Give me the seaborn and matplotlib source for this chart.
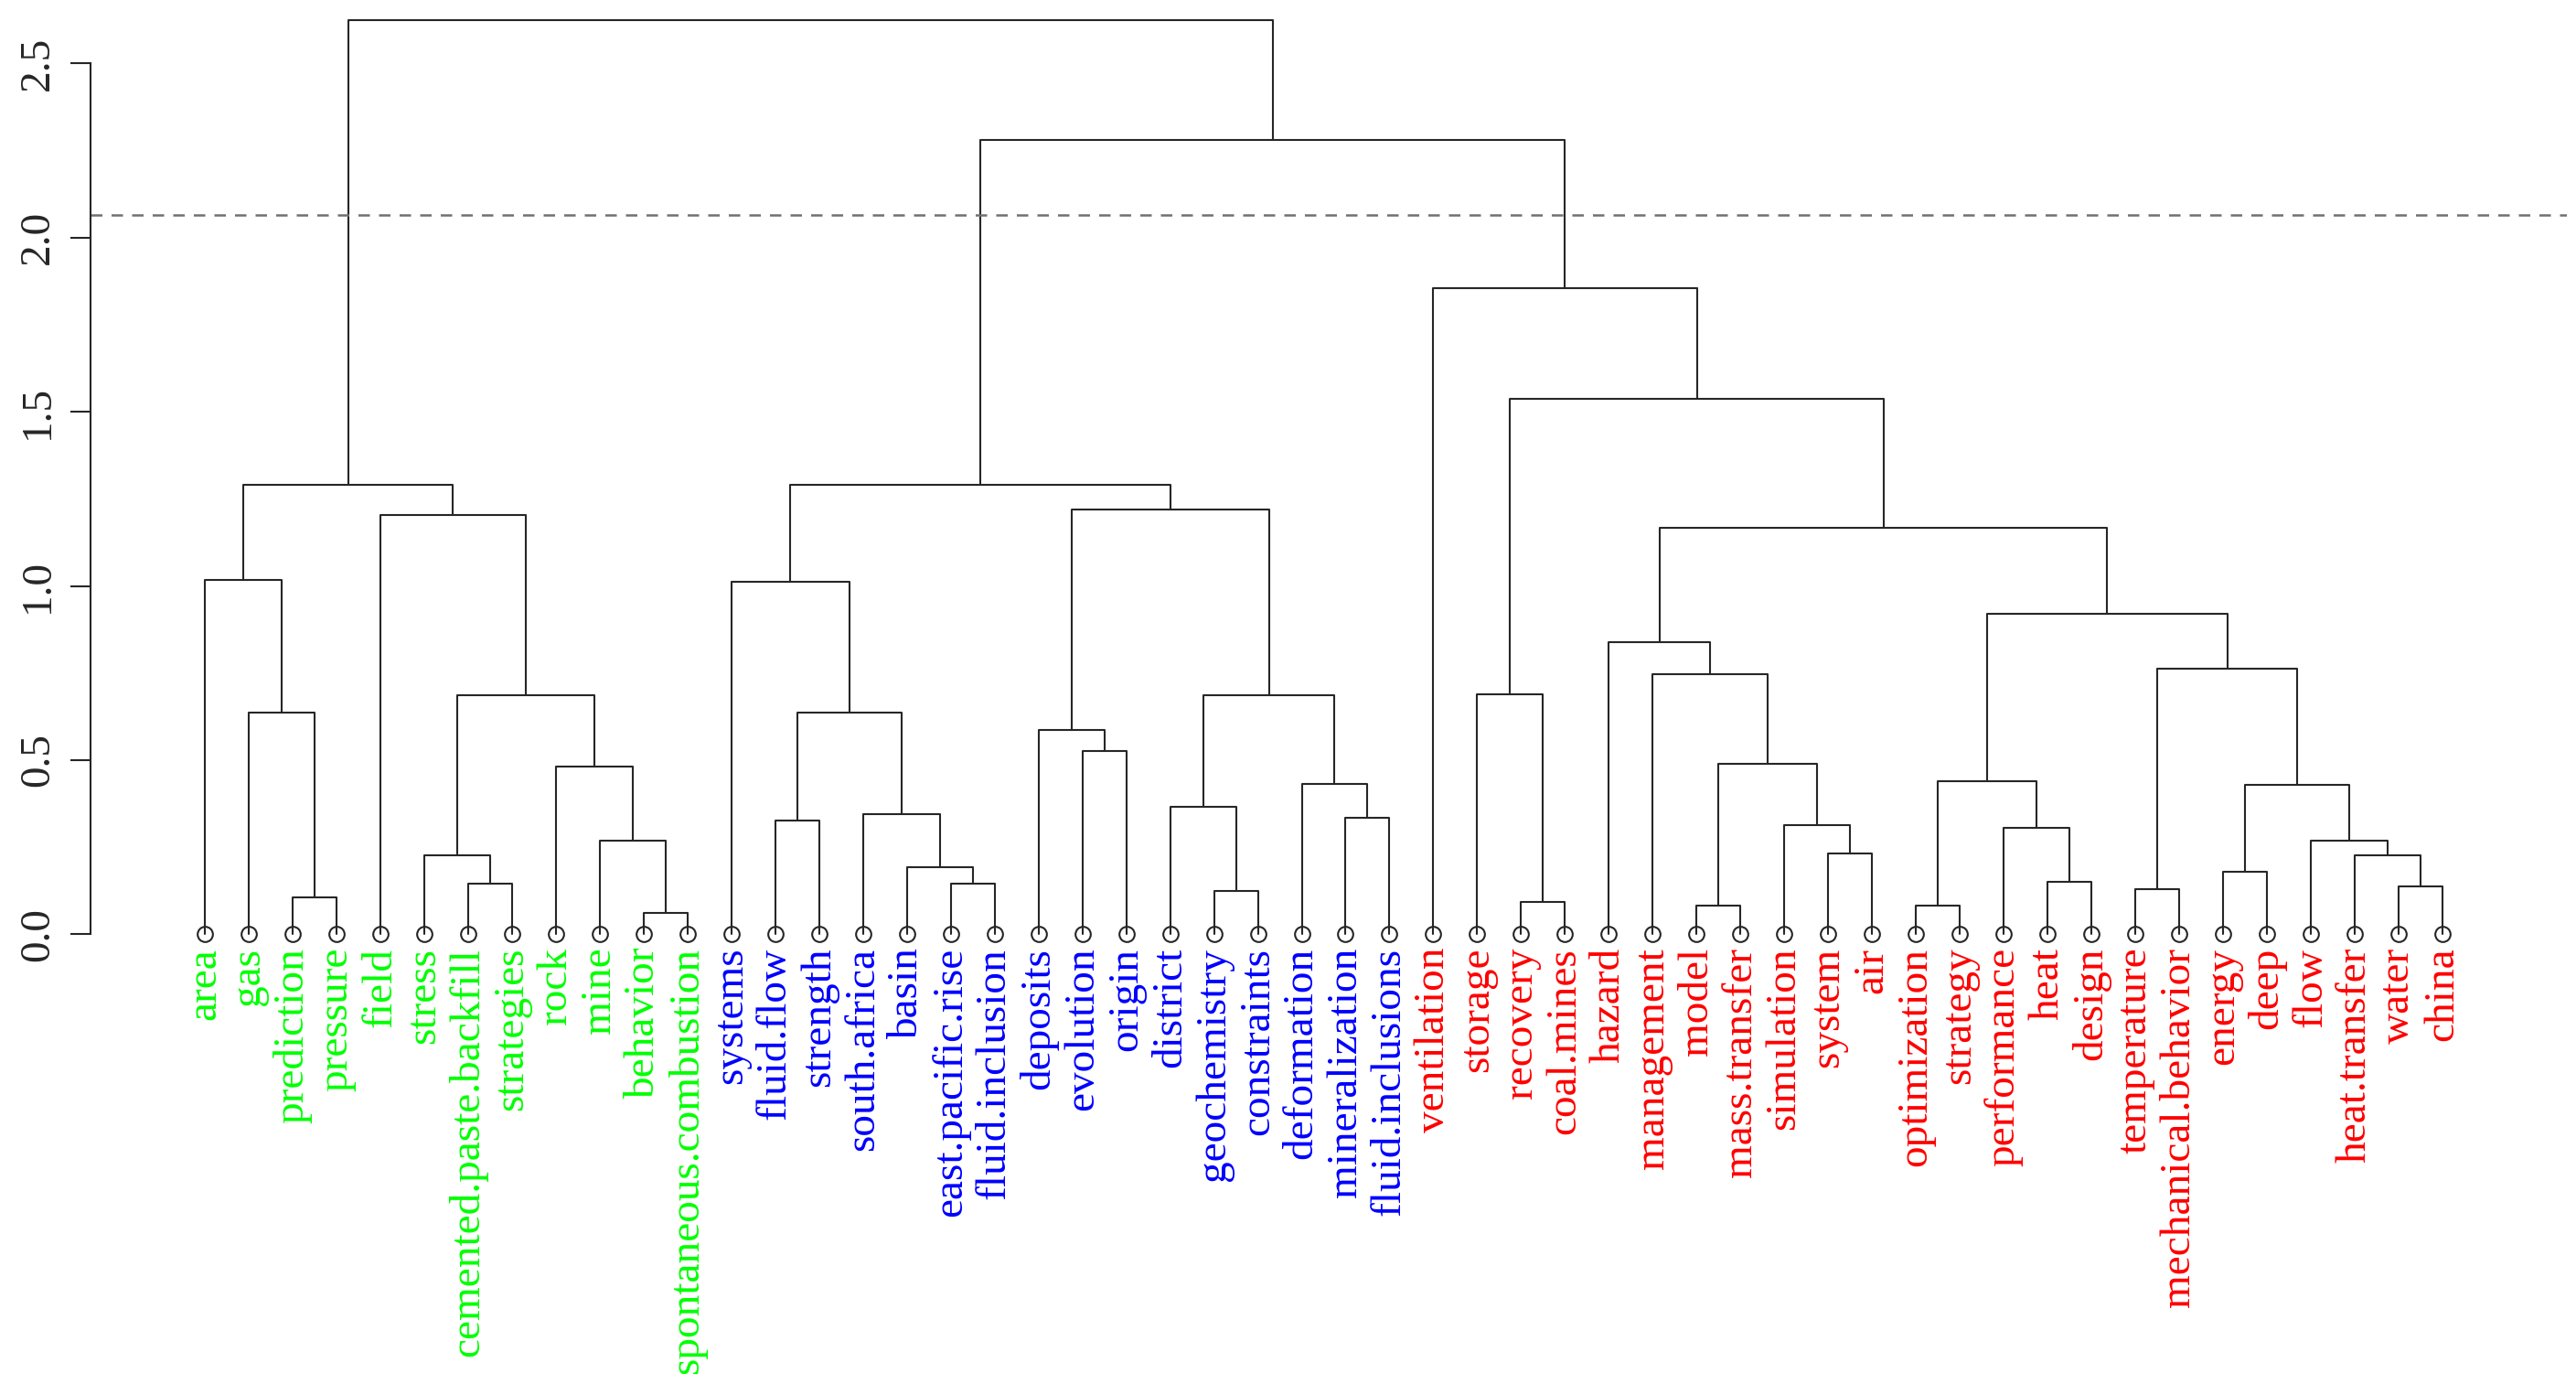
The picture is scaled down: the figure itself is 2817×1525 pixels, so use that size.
import numpy as np
import pandas as pd
import matplotlib
matplotlib.use("Agg")
import matplotlib.pyplot as plt
import seaborn as sns

# leaf labels, in the order they appear left to right
labels = [
    "area", "gas", "prediction", "pressure", "field", "stress",
    "cemented.paste.backfill", "strategies", "rock", "mine", "behavior",
    "spontaneous.combustion",
    "systems", "fluid.flow", "strength", "south.africa", "basin",
    "east.pacific.rise", "fluid.inclusion", "deposits", "evolution", "origin",
    "district", "geochemistry", "constraints", "deformation", "mineralization",
    "fluid.inclusions",
    "ventilation", "storage", "recovery", "coal.mines", "hazard", "management",
    "model", "mass.transfer", "simulation", "system", "air", "optimization",
    "strategy", "performance", "heat", "design", "temperature",
    "mechanical.behavior", "energy", "deep", "flow", "heat.transfer", "water",
    "china",
]

# cluster of each leaf (1 = green, 2 = blue, 3 = red)
cluster = [1] * 12 + [2] * 16 + [3] * 24
cluster_colors = {1: "#00FF00", 2: "#0000FF", 3: "#FF0000"}

# merge table (R hclust style): negative = leaf number, positive = earlier merge row
merge_a = [-3, -2, -1, -7, -6, -11, -10, -9, 5, -5, 3,
           -14, -18, -17, -16, 12, -13, -21, -20, -24, -23, -27, -26, 21, 19, 17,
           -31, -30, -35, -38, -37, 29, -34, -33, -40, -43, -42, 35, -45, -47,
           -51, -50, -49, 40, 39, 38, 34, 28, -29, 26, 11]
merge_b = [-4, 1, 2, -8, 4, -12, 6, 7, 8, 9, 10,
           -15, -19, 13, 14, 15, 16, -22, 18, -25, 20, -28, 22, 23, 24, 25,
           -32, 27, -36, -39, 30, 31, 32, 33, -41, -44, 36, 37, -46, -48,
           -52, 41, 42, 43, 44, 45, 46, 47, 48, 49, 50]
merge_h = [0.105, 0.635, 1.017, 0.145, 0.226, 0.061, 0.269, 0.482, 0.686, 1.203, 1.291,
           0.327, 0.144, 0.192, 0.346, 0.635, 1.012, 0.525, 0.586, 0.123, 0.365,
           0.333, 0.431, 0.686, 1.218, 1.290,
           0.094, 0.690, 0.082, 0.232, 0.312, 0.490, 0.746, 0.838, 0.081, 0.150,
           0.306, 0.439, 0.130, 0.180, 0.138, 0.226, 0.269, 0.429, 0.762, 0.921,
           1.166, 1.538, 1.856, 2.279, 2.623]

cut_height = 2.066
y_ticks = [0.0, 0.5, 1.0, 1.5, 2.0, 2.5]

# build the link segments
node_x, node_h = [], []
rows = []
for k, (a, b, h) in enumerate(zip(merge_a, merge_b, merge_h)):
    xa, ya = (-a, 0.0) if a < 0 else (node_x[a - 1], node_h[a - 1])
    xb, yb = (-b, 0.0) if b < 0 else (node_x[b - 1], node_h[b - 1])
    for order, (px, py) in enumerate([(xa, ya), (xa, h), (xb, h), (xb, yb)]):
        rows.append({"link": k, "order": order, "x": px, "y": py})
    node_x.append((xa + xb) / 2)
    node_h.append(h)
links = pd.DataFrame(rows)

sns.set_style("white")
plt.rcParams["font.family"] = ["Liberation Serif", "DejaVu Serif"]

W, H, DPI = 2817, 1525, 100
fig = plt.figure(figsize=(W / DPI, H / DPI), dpi=DPI)

# axes placed so leaves and heights land where the reference has them
px_per_unit_y = 380.8
y0_px = 1021.3
ytop = y0_px / px_per_unit_y
ybot = (y0_px - H) / px_per_unit_y
left_px, right_px = 99, 2807
leaf1_px, step_px = 224, 47.98
xleft = 1 - (leaf1_px - left_px) / step_px
xright = 1 + (right_px - leaf1_px) / step_px
ax = fig.add_axes([left_px / W, 0, (right_px - left_px) / W, 1])

line_col = "#262626"
sns.lineplot(data=links, x="x", y="y", units="link", estimator=None, sort=False,
             color=line_col, lw=1.5, ax=ax, legend=False)

leaf_x = np.arange(1, len(labels) + 1)
ax.plot(leaf_x, np.zeros(len(labels)), "o", mfc="none", mec=line_col,
        ms=12, mew=1.5, clip_on=False, zorder=3)

for x, lab, c in zip(leaf_x, labels, cluster):
    ax.text(x, -0.038, lab, rotation=90, ha="center", va="top",
            color=cluster_colors[c], fontsize=34)

ax.axhline(cut_height, color="#707070", lw=1.8, ls=(0, (5, 4)))

ax.set_xlim(xleft, xright)
ax.set_ylim(ybot, ytop)
ax.set_xticks([])
ax.set_yticks(y_ticks)
ax.set_yticklabels([f"{t:.1f}" for t in y_ticks], fontsize=34,
                   rotation=90, va="center")
ax.tick_params(axis="y", length=16, width=1.5, pad=10, color=line_col,
               left=True)
ax.set_xlabel("")
ax.set_ylabel("")
for s in ["top", "right", "bottom"]:
    ax.spines[s].set_visible(False)
ax.spines["left"].set_bounds(0, 2.5)
ax.spines["left"].set_color(line_col)
ax.spines["left"].set_linewidth(1.5)
ax.patch.set_alpha(0)

fig.savefig("out.png", dpi=DPI)
